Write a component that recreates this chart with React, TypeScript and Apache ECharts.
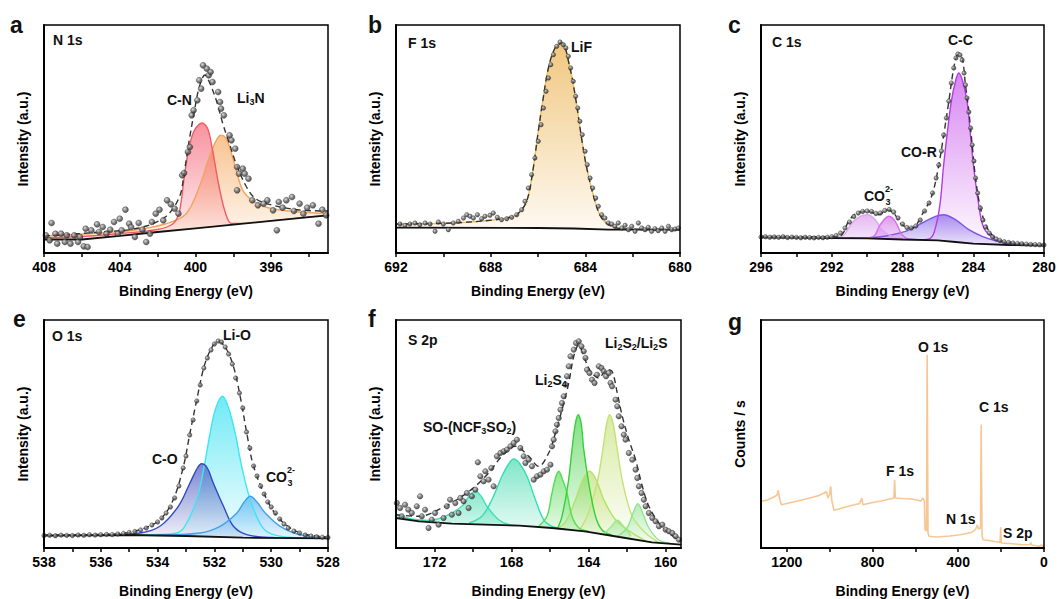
import React, { useEffect, useRef } from 'react';
import * as echarts from 'echarts';

const FONT = '"Liberation Sans", Arial, Helvetica, sans-serif';

// ---------------- Panel a : N 1s ----------------
const aLabels = [408, 404, 400, 396];
const aTicks = [408, 406, 404, 402, 400, 398, 396, 394];
const aBaseline = [[408, 13.5], [406, 13.5], [404, 17.2], [402, 21], [400, 24.7], [398, 28.4], [396, 32.1], [394, 35.8], [393, 37.7]];
const aLi3N = [[408, 17], [405, 20], [403.3, 22.7], [401.6, 29], [400.5, 39], [399.8, 66], [399.27, 96], [398.9, 112.7], [398.65, 117.7], [398.4, 115], [398.2, 106], [397.85, 82.7], [397.5, 62.7], [397, 52.7], [396.3, 46], [395.4, 42.7], [394.5, 41], [393, 39.3]];
const aCN = [[408, 15.3], [406, 16.5], [404, 19.5], [402, 23.5], [401.2, 29], [400.9, 38], [400.75, 52], [400.6, 75], [400.4, 99], [400.1, 121], [399.65, 130], [399.35, 124], [399.1, 103], [398.75, 66], [398.4, 39], [398.1, 29.5], [397.5, 29.5], [396, 32.1], [393, 37.7]];
const aEnvelope = [[408, 17], [405, 21], [403, 25], [401.6, 36], [400.85, 56], [400.6, 80], [400.33, 112.7], [400.05, 142.7], [399.8, 166], [399.5, 178], [399.27, 171], [398.9, 152.7], [398.55, 129], [398.2, 109], [397.85, 89], [397.3, 66], [396.8, 54], [395.9, 47.7], [394.5, 43], [393, 42]];
const aPoints = [[407.9, 17.7], [407.7, 12.7], [407.6, 30], [407.4, 19.3], [407.3, 9.3], [407.1, 19.3], [406.9, 11], [406.8, 17.7], [406.6, 9.3], [406.4, 17.7], [406.2, 11], [406.1, 16], [405.9, 6.7], [405.7, 6], [405.8, 24.3], [405.5, 22.7], [405.2, 28.7], [405.1, 21], [404.9, 26], [404.7, 19.3], [404.5, 23.3], [404.3, 31], [404.1, 19.3], [404.0, 34.3], [403.9, 22.7], [403.7, 43.3], [403.5, 29.3], [403.4, 26], [403.2, 16], [403.0, 30], [402.8, 23.3], [402.6, 11], [402.4, 19.3], [402.3, 31], [402.1, 39.3], [401.9, 43.3], [401.7, 32.7], [401.5, 52.7], [401.3, 48.7], [401.1, 44.3], [400.9, 39.3], [400.7, 77.7], [400.6, 80], [400.4, 101], [400.3, 106], [400.2, 137.7], [400.1, 142.7], [399.9, 152.7], [399.8, 172.7], [399.7, 164.3], [399.6, 187.7], [399.4, 184.3], [399.3, 177.7], [399.2, 181], [399.1, 171], [398.8, 161], [398.7, 151], [398.65, 144.3], [398.5, 137.7], [398.2, 117.7], [398.1, 112.7], [397.9, 104.3], [397.8, 86], [397.7, 79.3], [397.5, 84.3], [397.4, 79.3], [397.2, 74.3], [397.8, 62.7], [397.0, 52.7], [396.7, 47.7], [396.4, 49.3], [396.2, 52.7], [395.9, 42.7], [395.7, 22.7], [395.6, 51], [395.4, 45.3], [395.2, 52.7], [394.9, 56], [394.8, 42], [394.5, 49.3], [394.3, 39.3], [394.1, 45.3], [393.8, 47.7], [393.5, 29.3], [393.3, 43.3], [393.1, 37.7]];

// ---------------- Panel b : F 1s ----------------
const bLabels = [692, 688, 684, 680];
const bTicks = [692, 690, 688, 686, 684, 682, 680];
const bBaseline = [[692, 25.3], [686, 25], [684.5, 24.5], [683, 23.3], [680, 23.3]];
const bLiF = [[692, 29], [689.58, 30], [687.89, 33], [687.18, 35.7], [686.9, 38], [686.48, 51.7], [686.2, 85], [686.01, 118], [685.8, 151.7], [685.56, 185], [685.28, 205], [685.0, 210], [684.65, 185], [684.39, 151.7], [684.18, 118], [683.94, 85], [683.59, 51.7], [683.31, 35], [682.89, 26.7], [682.25, 24], [680, 23.3]];
const bPoints = [[691.83, 29], [691.62, 27.7], [691.41, 29], [691.2, 30], [690.99, 28.3], [690.77, 30], [690.56, 29], [690.35, 21.7], [690.21, 31], [690.0, 29], [689.79, 23.3], [689.58, 30], [689.37, 31.7], [689.15, 35], [689.01, 38.3], [688.87, 36.7], [688.73, 35], [688.56, 38.3], [688.38, 34.3], [688.24, 36.7], [688.03, 37.7], [687.89, 40], [687.72, 35.7], [687.54, 33.3], [687.32, 34.3], [687.11, 35.7], [686.9, 38.3], [686.69, 43.3], [686.55, 51.7], [686.41, 65], [686.27, 78.3], [686.13, 95], [685.99, 111.7], [685.87, 128.3], [685.77, 145], [685.66, 161.7], [685.56, 175], [685.46, 188.3], [685.35, 198.3], [685.21, 206.7], [685.07, 211], [684.93, 208.3], [684.82, 205], [684.72, 196.7], [684.62, 185], [684.51, 171.7], [684.41, 156.7], [684.32, 145], [684.23, 131.7], [684.13, 118.3], [684.01, 101.7], [683.92, 88.3], [683.8, 75], [683.69, 65], [683.56, 55], [683.45, 46.7], [683.31, 38.3], [683.17, 35], [683.03, 30], [682.89, 29], [682.75, 26.7], [682.61, 30], [682.46, 25], [682.32, 27.7], [682.18, 23.3], [682.04, 26.7], [681.9, 21.7], [681.76, 30], [681.62, 25], [681.48, 23.3], [681.34, 25.7], [681.2, 21.7], [681.06, 24.3], [680.92, 22.3], [680.77, 25], [680.63, 21.7], [680.49, 26.7], [680.35, 23.3], [680.21, 24], [680.07, 25]];

// ---------------- Panel c : C 1s ----------------
const cLabels = [296, 292, 288, 284, 280];
const cTicks = [296, 294, 292, 290, 288, 286, 284, 282, 280];
const cBaseline = [[296, 15.7], [292, 15], [290, 14.7], [288, 13.5], [286, 12.7], [285, 11], [284, 9.3], [282, 8], [280, 7.3]];
const cCC = [[288, 13.5], [287, 13.2], [286.4, 15], [286.1, 28], [285.86, 51.7], [285.69, 85], [285.48, 118.3], [285.24, 151.7], [285.0, 172], [284.82, 180], [284.6, 172], [284.35, 151.7], [284.16, 118.3], [283.97, 85], [283.72, 51.7], [283.4, 25], [282.74, 13.3], [282.17, 10], [280, 7.3]];
const cCOR = [[291, 14.7], [289.35, 16], [287.84, 21.7], [286.9, 30], [286.14, 36.7], [285.67, 38.3], [285.01, 33.3], [284.25, 23.3], [283.5, 16.7], [282.74, 12.3], [282, 9.5], [280, 7.3]];
const cCO3a = [[292.5, 15], [291.43, 16.7], [290.86, 30], [290.39, 36.7], [289.96, 38.3], [289.54, 33.3], [289.16, 23.3], [288.6, 16.7], [288, 13.5]];
const cCO3b = [[290.3, 14.7], [289.63, 16.7], [289.26, 28.3], [288.78, 36.7], [288.41, 31.7], [288.03, 18.3], [287.65, 14], [287, 13.2]];
const cEnvelope = [[296, 16.7], [292, 16.2], [291.43, 18.3], [291.05, 31.7], [290.58, 40], [289.92, 41.7], [289.35, 38.3], [288.88, 43.3], [288.5, 40], [288.03, 28.3], [287.46, 25], [286.9, 38.3], [286.33, 58], [285.95, 88], [285.67, 118], [285.38, 151.7], [285.1, 185], [284.87, 198.3], [284.63, 195], [284.44, 168], [284.25, 141.7], [284.06, 108], [283.87, 75], [283.59, 45], [283.21, 25], [282.74, 15], [282.17, 11], [280, 8.3]];
const cPoints = [[296, 16], [295.75, 16.3], [295.5, 15.8], [295.25, 16], [295, 15.7], [294.75, 16.2], [294.5, 15.5], [294.25, 15.9], [294, 15.6], [293.75, 15.2], [293.5, 15.8], [293.25, 15.4], [293, 15.1], [292.75, 15.6], [292.5, 15.3], [292.25, 15.8], [292, 16.2], [291.75, 17.5], [291.5, 20], [291.25, 25], [291, 31], [290.75, 36.5], [290.5, 40], [290.25, 41.5], [290, 42], [289.75, 41.5], [289.5, 39.5], [289.25, 40], [289, 42.5], [288.75, 43.5], [288.5, 41], [288.25, 35], [288, 29], [287.75, 25.5], [287.5, 25], [287.25, 27], [287, 33], [286.75, 42], [286.5, 50], [286.3, 60], [286.1, 75], [285.95, 88], [285.8, 102], [285.67, 118], [285.52, 135], [285.38, 152], [285.24, 170], [285.1, 185], [284.98, 195], [284.87, 199], [284.75, 198], [284.63, 193], [284.52, 180], [284.44, 168], [284.35, 155], [284.25, 141], [284.15, 125], [284.06, 108], [283.96, 92], [283.87, 75], [283.75, 60], [283.6, 45], [283.45, 33], [283.3, 26], [283.1, 20], [282.9, 16], [282.7, 14], [282.5, 12.5], [282.25, 11.2], [282, 10.5], [281.75, 10], [281.5, 9.6], [281.25, 9.2], [281, 8.9], [280.75, 8.6], [280.5, 8.4], [280.25, 8.2], [280, 8]];

// ---------------- Panel e : O 1s ----------------
const eLabels = [538, 536, 534, 532, 530, 528];
const eTicks = [538, 537, 536, 535, 534, 533, 532, 531, 530, 529, 528];
const eBaseline = [[538, 12.3], [535, 13], [533, 12], [531, 10.3], [528, 9.7]];
const eLiO = [[535, 13], [534, 13.5], [533.33, 15], [533.04, 21.7], [532.62, 48.3], [532.36, 81.7], [532.15, 115], [531.95, 140], [531.71, 151.7], [531.5, 140], [531.27, 115], [531.04, 81.7], [530.74, 48.3], [530.33, 21.7], [529.92, 13.3], [529, 10], [528, 9.7]];
const eCO = [[538, 12.5], [536, 13], [534.62, 15], [533.92, 21.7], [533.27, 41.7], [532.86, 65], [532.6, 80], [532.45, 84.3], [532.25, 80], [532.04, 65], [531.68, 41.7], [531.33, 21.7], [530.86, 13.3], [530, 10.5], [528, 9.7]];
const eCO3 = [[534, 13], [532.51, 15], [531.8, 21.7], [531.21, 35], [530.95, 46], [530.74, 51.7], [530.5, 46], [530.21, 35], [529.68, 21.7], [528.98, 13.3], [528, 10]];
const eEnvelope = [[538, 13], [535.5, 14], [534.62, 18.3], [533.92, 28.3], [533.45, 48.3], [533.09, 81.7], [532.86, 115], [532.62, 148.3], [532.36, 181.7], [532.1, 200], [531.86, 206.7], [531.6, 200], [531.33, 181.7], [531.07, 148.3], [530.86, 115], [530.62, 81.7], [530.15, 48.3], [529.68, 28.3], [528.98, 15], [528, 11]];
const ePoints = [[538, 12.5], [537.8, 12.8], [537.6, 12.2], [537.4, 12.9], [537.2, 12.6], [537, 12.4], [536.8, 13], [536.6, 12.7], [536.4, 13.2], [536.2, 12.9], [536, 13.3], [535.8, 13.6], [535.6, 13.4], [535.4, 14], [535.2, 14.6], [535, 15.5], [534.8, 16.5], [534.6, 18], [534.4, 20], [534.2, 23], [534, 26], [533.85, 30], [533.7, 35], [533.55, 41], [533.4, 50], [533.25, 62], [533.1, 80], [533, 92], [532.87, 113], [532.75, 128], [532.62, 147], [532.5, 163], [532.37, 180], [532.25, 190], [532.12, 198], [532, 204], [531.87, 207], [531.75, 206], [531.62, 201], [531.5, 194], [531.37, 184], [531.25, 170], [531.12, 155], [531, 140], [530.87, 116], [530.75, 100], [530.62, 82], [530.5, 72], [530.37, 62], [530.25, 54], [530.12, 46], [530, 41], [529.85, 35], [529.7, 29], [529.55, 24], [529.4, 20], [529.2, 17], [529, 15], [528.8, 13], [528.6, 12], [528.4, 11.2], [528.2, 10.8], [528, 10.5]];

// ---------------- Panel f : S 2p ----------------
const fLabels = [172, 168, 164, 160];
const fTicks = [172, 170, 168, 166, 164, 162, 160];
const fBaseline = [[174, 30], [172.8, 26.7], [171.1, 24.3], [167.6, 22.3], [165.9, 20], [164.2, 16.7], [162.4, 11], [160.7, 5.7], [159.2, 3.3]];
const fSO1 = [[174, 33.5], [173.2, 29], [172.3, 27.5], [171.45, 31.7], [170.58, 41.7], [170.2, 52], [169.88, 56.7], [169.55, 51], [169.28, 41.7], [168.67, 28.3], [168.15, 23.5], [167.5, 22.2]];
const fSO2 = [[170.2, 25], [169.54, 31.7], [169.02, 48.3], [168.5, 71.7], [168.15, 84], [167.89, 89], [167.6, 85], [167.2, 71.7], [166.76, 48.3], [166.33, 28.3], [165.9, 21.7], [165.2, 19]];
const fLi2S4a = [[166.6, 21.5], [166.16, 31.7], [165.9, 55], [165.72, 70], [165.55, 76.7], [165.38, 70], [165.12, 55], [164.86, 31.7], [164.5, 20], [164, 17]];
const fLi2S4b = [[165.6, 20], [165.38, 31.7], [165.06, 65], [164.86, 98.3], [164.7, 123], [164.54, 133.3], [164.38, 124], [164.25, 98.3], [163.99, 65], [163.64, 31.7], [163.3, 18], [162.8, 13]];
const fLi2S2a = [[165.6, 20], [165.2, 26], [164.68, 48.3], [164.3, 68], [163.95, 76.7], [163.6, 68], [163.21, 48.3], [162.6, 28.3], [161.73, 15], [161, 7]];
const fLi2S2b = [[164.5, 17], [164.08, 31.7], [163.56, 65], [163.26, 98.3], [163.08, 122], [162.91, 133.3], [162.72, 124], [162.51, 98.3], [162.22, 65], [161.73, 31.7], [161.04, 15], [160.3, 5]];
const fLi2Sa = [[163.2, 14], [162.8, 22], [162.51, 27.7], [162.2, 22], [161.8, 12]];
const fLi2Sb = [[162.5, 11.5], [162.0, 20], [161.73, 33], [161.44, 44.3], [161.15, 33], [160.87, 20], [160.35, 8], [159.8, 5]];
const fEnvelope = [[174, 33.3], [172.83, 31.7], [171.45, 41.7], [170.58, 51.7], [169.88, 61.7], [169.19, 75], [168.5, 91.7], [167.8, 101.7], [167.11, 91.7], [166.59, 81.7], [166.07, 95], [165.72, 115], [165.38, 138.3], [165.03, 165], [164.77, 191.7], [164.51, 203.3], [164.25, 191.7], [163.9, 176.7], [163.47, 170], [163.04, 178.3], [162.78, 176.7], [162.51, 155], [162.25, 131.7], [161.91, 108.3], [161.56, 88.3], [161.21, 61.7], [160.87, 41.7], [160.35, 25], [159.83, 15], [159.25, 6.7]];
const fPoints = [[173.96, 45], [173.79, 40], [173.7, 31.7], [173.53, 43.3], [173.36, 38.3], [173.18, 35], [172.92, 41.7], [172.75, 51.7], [172.66, 31.7], [172.49, 38.3], [172.31, 20], [172.14, 28.3], [171.97, 35], [171.79, 23.3], [171.53, 30], [171.36, 41.7], [171.19, 48.3], [171.1, 33.3], [170.92, 45], [170.75, 35], [170.66, 50], [170.49, 46.7], [170.32, 55], [170.23, 40], [170.06, 51.7], [169.88, 58.3], [169.75, 85.7], [169.62, 71.7], [169.45, 66.7], [169.36, 76.7], [169.19, 68.3], [169.05, 80], [168.93, 61.7], [168.76, 91.7], [168.58, 95], [168.41, 96.7], [168.24, 98.3], [168.06, 101.7], [167.89, 105], [167.72, 108.3], [167.54, 100], [167.37, 91.7], [167.28, 85], [167.11, 88.3], [166.94, 81.7], [166.85, 68.3], [166.68, 71.7], [166.5, 73.3], [166.33, 76.7], [166.16, 78.3], [165.98, 83.3], [165.9, 101.7], [165.81, 108.3], [165.72, 116.7], [165.64, 123.3], [165.55, 130], [165.46, 138.3], [165.38, 145], [165.29, 151.7], [165.2, 163.3], [165.12, 171.7], [165.03, 181.7], [164.94, 191.7], [164.77, 198.3], [164.65, 205], [164.51, 206.7], [164.37, 201.7], [164.25, 196.7], [164.16, 190], [164.08, 178.3], [163.95, 175], [163.82, 168.3], [163.69, 165], [163.56, 173.3], [163.47, 181.7], [163.33, 180], [163.21, 176.7], [163.09, 171.7], [162.95, 175], [162.86, 165], [162.78, 161.7], [162.6, 148.3], [162.51, 141.7], [162.43, 131.7], [162.29, 121.7], [162.17, 113.3], [162.08, 108.3], [161.91, 95], [161.73, 88.3], [161.56, 78.3], [161.47, 70], [161.39, 61.7], [161.25, 55], [161.13, 48.3], [161.04, 41.7], [160.87, 35], [160.69, 30], [160.52, 26.7], [160.35, 21.7], [160.17, 23.3], [160.0, 18.3], [159.83, 16.7], [159.65, 15], [159.48, 11.7], [159.31, 8.3]];

// ---------------- Panel g : survey ----------------
const gLabels = [1200, 800, 400, 0];
const gTicks = [1200, 1000, 800, 600, 400, 200, 0];
const gSurvey = [[1320, 46.7], [1290, 48], [1260, 51], [1245, 53], [1240, 57.7], [1232, 48], [1225, 43.3], [1205, 44.3], [1150, 47], [1100, 49.5], [1050, 52.5], [1025, 55], [1015, 56.7], [1008, 50], [1000, 54], [995, 61.7], [990, 48], [980, 37.7], [950, 39.5], [925, 41], [880, 43.5], [860, 44.5], [850, 50], [845, 43.3], [800, 45.5], [760, 47], [720, 49], [700, 50], [697, 68.3], [693, 50], [660, 49.5], [620, 49], [590, 48], [575, 46.7], [565, 50], [558, 47], [555, 18.3], [548, 17], [545, 193.3], [541, 15], [536, 11.7], [500, 11], [440, 12], [400, 13], [360, 14.5], [334, 16], [318, 19], [311, 23.3], [305, 19], [296, 20], [293, 123.3], [289, 12], [284, 8.3], [264, 7.7], [210, 5.7], [205, 5.5], [202, 20.7], [199, 5], [150, 4.3], [101, 3.3], [65, 3.5], [62, 5.5], [58, 3], [23, 1.7], [10, 3], [0, 0]];

// ---------------- layout ----------------
const GRIDS = [
  { left: 44, top: 25, width: 284, height: 228 },
  { left: 396, top: 25, width: 284, height: 228 },
  { left: 761, top: 25, width: 283, height: 228 },
  { left: 44, top: 320, width: 284, height: 228 },
  { left: 396, top: 320, width: 285, height: 228 },
  { left: 761, top: 320, width: 283, height: 228 },
];
const AXES = [
  { min: 393, max: 408, labels: aLabels, ticks: aTicks, yName: 'Intensity (a.u.)', row: 0 },
  { min: 680, max: 692, labels: bLabels, ticks: bTicks, yName: 'Intensity (a.u.)', row: 0 },
  { min: 280, max: 296, labels: cLabels, ticks: cTicks, yName: 'Intensity (a.u.)', row: 0 },
  { min: 528, max: 538, labels: eLabels, ticks: eTicks, yName: 'Intensity (a.u.)', row: 1 },
  { min: 159.2, max: 174, labels: fLabels, ticks: fTicks, yName: 'Intensity (a.u.)', row: 1 },
  { min: 0, max: 1320, labels: gLabels, ticks: gTicks, yName: 'Counts / s', row: 1 },
];

const rgba = (hex: string, a: number) => {
  const n = parseInt(hex.slice(1), 16);
  return `rgba(${(n >> 16) & 255},${(n >> 8) & 255},${n & 255},${a})`;
};

const peak = (i: number, data: number[][], line: string, fill: string) => ({
  type: 'line', xAxisIndex: i, yAxisIndex: i, data, smooth: 0.35, symbol: 'none', silent: true,
  lineStyle: { color: line, width: 1.4 },
  areaStyle: {
    color: { type: 'linear', x: 0, y: 0, x2: 0, y2: 1, colorStops: [{ offset: 0, color: rgba(fill, 0.92) }, { offset: 1, color: rgba(fill, 0.0) }] },
  },
  z: 2,
});
const base = (i: number, data: number[][]) => ({
  type: 'line', xAxisIndex: i, yAxisIndex: i, data, symbol: 'none', silent: true,
  lineStyle: { color: '#111', width: 1.8 },
  areaStyle: { color: '#ffffff', opacity: 1 },
  z: 3,
});
const env = (i: number, data: number[][]) => ({
  type: 'line', xAxisIndex: i, yAxisIndex: i, data, smooth: 0.35, symbol: 'none', silent: true,
  lineStyle: { color: '#333', width: 1.4, type: [6, 4] },
  z: 4,
});
const pts = (i: number, data: number[][], size = 5.5) => ({
  type: 'scatter', xAxisIndex: i, yAxisIndex: i, data, symbol: 'circle', symbolSize: size, silent: true,
  itemStyle: {
    color: { type: 'radial', x: 0.38, y: 0.35, r: 0.7, colorStops: [{ offset: 0, color: '#d0d0d0' }, { offset: 0.55, color: '#5a5a5a' }, { offset: 1, color: '#262626' }] },
    borderColor: '#222', borderWidth: 0.4,
  },
  z: 5,
});

const richSub = { s: { fontSize: 9, fontWeight: 'bold', fontFamily: FONT, fill: '#111', padding: [8, 0, 0, 0] } };
const txt = (x: number, y: number, text: string, size = 14) => ({
  type: 'text', x, y, silent: true, z: 30,
  style: { text, fill: '#111', fontSize: size, fontWeight: 'bold', fontFamily: FONT, align: 'left', verticalAlign: 'middle', rich: richSub },
});
const co3 = (x: number, y: number) => [
  txt(x, y, 'CO'),
  txt(x + 21, y - 7, '2-', 9),
  txt(x + 21.5, y + 5.5, '3', 9),
];

function buildOption() {
  const grid = GRIDS.map((g) => ({ ...g, show: true, borderColor: '#000', borderWidth: 1.5, backgroundColor: 'transparent', z: 10 }));
  const xAxis = AXES.map((a, i) => ({
    gridIndex: i, type: 'value', inverse: true, min: a.min, max: a.max, z: 10,
    axisLine: { show: true, onZero: false, lineStyle: { color: '#000', width: 2 } },
    axisTick: { show: true, length: 4, customValues: a.ticks, lineStyle: { color: '#000', width: 1.5 } },
    axisLabel: { customValues: a.labels, formatter: (v: number) => String(v), color: '#000', fontSize: 14, fontWeight: 'bold', fontFamily: FONT, margin: 7 },
    splitLine: { show: false },
    name: 'Binding Energy (eV)', nameLocation: 'middle', nameGap: a.row === 0 ? 31 : 36,
    nameTextStyle: { color: '#000', fontSize: 14, fontWeight: 'bold', fontFamily: FONT },
  }));
  const yAxis = AXES.map((a, i) => ({
    gridIndex: i, type: 'value', min: 0, max: 228, z: 10,
    axisLine: { show: true, onZero: false, lineStyle: { color: '#000', width: 2 } },
    axisTick: { show: false }, axisLabel: { show: false }, splitLine: { show: false },
    name: a.yName, nameLocation: 'middle', nameGap: 14,
    nameTextStyle: { color: '#000', fontSize: 14, fontWeight: 'bold', fontFamily: FONT },
  }));

  const series = [
    // a
    peak(0, aLi3N, '#f4a35c', '#f5a255'),
    peak(0, aCN, '#f25b66', '#f4566a'),
    base(0, aBaseline), env(0, aEnvelope), pts(0, aPoints, 6),
    // b
    peak(1, bLiF, '#f0c15e', '#e9a93a'),
    base(1, bBaseline), env(1, bLiF), pts(1, bPoints, 4.5),
    // c
    peak(2, cCC, '#b53be6', '#c245ea'),
    peak(2, cCOR, '#7f55e6', '#7f5ae8'),
    peak(2, cCO3a, '#dba6f0', '#d690ea'),
    peak(2, cCO3b, '#d171e6', '#cf63e4'),
    base(2, cBaseline), env(2, cEnvelope), pts(2, cPoints, 4.5),
    // e
    peak(3, eLiO, '#3fe6f2', '#22def0'),
    peak(3, eCO, '#2e4cc4', '#3444b6'),
    peak(3, eCO3, '#3fa2ec', '#44a9f2'),
    base(3, eBaseline), env(3, eEnvelope), pts(3, ePoints, 4.5),
    // f
    peak(4, fSO1, '#3fe0b4', '#44dcae'),
    peak(4, fSO2, '#33dfb0', '#3ad9aa'),
    peak(4, fLi2S2a, '#b5e067', '#b9dd66'),
    peak(4, fLi2S2b, '#c4e275', '#c3e070'),
    peak(4, fLi2S4a, '#52dd52', '#55da55'),
    peak(4, fLi2S4b, '#35d038', '#3ccf3c'),
    peak(4, fLi2Sa, '#98e898', '#9ae69a'),
    peak(4, fLi2Sb, '#8fe58f', '#8fe38f'),
    base(4, fBaseline), env(4, fEnvelope), pts(4, fPoints, 5.5),
    // g
    {
      type: 'line', xAxisIndex: 5, yAxisIndex: 5, data: gSurvey, symbol: 'none', silent: true,
      lineStyle: { color: '#f6c794', width: 1.6 }, z: 3,
    },
  ];

  const graphic = [
    txt(10, 25, 'a', 23), txt(368, 25, 'b', 23), txt(728, 25, 'c', 23),
    txt(13, 319, 'e', 23), txt(368, 319, 'f', 23), txt(728, 322, 'g', 23),
    txt(53, 40, 'N 1s'), txt(408, 43, 'F 1s'), txt(772, 42, 'C 1s'),
    txt(52, 336, 'O 1s'), txt(408, 340, 'S 2p'),
    txt(167, 100, 'C-N'), txt(237, 98, 'Li{s|3}N'),
    txt(571, 47, 'LiF'),
    txt(948, 40, 'C-C'), txt(901, 152, 'CO-R'), ...co3(864, 196),
    txt(223, 335, 'Li-O'), txt(152, 459, 'C-O'), ...co3(266, 477),
    txt(535, 380, 'Li{s|2}S{s|4}'), txt(605, 343, 'Li{s|2}S{s|2}/Li{s|2}S'), txt(423, 427, 'SO-(NCF{s|3}SO{s|2})'),
    txt(918, 347, 'O 1s'), txt(979, 407, 'C 1s'), txt(886, 471, 'F 1s'), txt(946, 519, 'N 1s'), txt(1003, 533, 'S 2p'),
  ];

  return { animation: false, backgroundColor: '#ffffff', grid, xAxis, yAxis, series, graphic };
}

export default function App() {
  const ref = useRef<HTMLDivElement>(null);
  useEffect(() => {
    const chart = echarts.init(ref.current as HTMLDivElement, null, { renderer: 'svg' });
    chart.setOption(buildOption() as any);
    return () => chart.dispose();
  }, []);
  return <div ref={ref} style={{ position: 'absolute', left: 0, top: 0, width: 1059, height: 599, background: '#fff' }} />;
}
